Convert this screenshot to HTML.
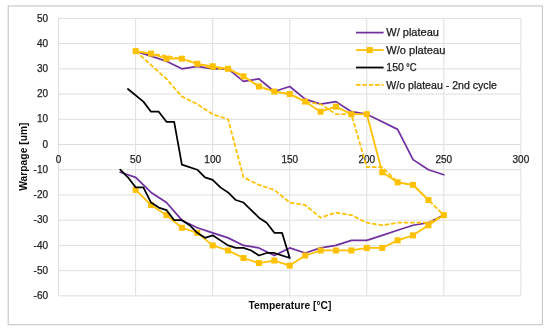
<!DOCTYPE html><html><head><meta charset="utf-8"><style>html,body{margin:0;padding:0;background:#fff;}svg{display:block;will-change:transform;}text{font-family:"Liberation Sans",sans-serif;}</style></head><body>
<svg width="550" height="331" viewBox="0 0 550 331">
<rect x="0" y="0" width="550" height="331" fill="#fff"/>
<rect x="8.2" y="5.95" width="534.2" height="318.7" fill="none" stroke="#C8C8C8" stroke-width="1.15"/>
<g stroke="#DEDEDE" stroke-width="1"><line x1="58.60" y1="18.35" x2="520.90" y2="18.35"/><line x1="58.60" y1="43.58" x2="520.90" y2="43.58"/><line x1="58.60" y1="68.81" x2="520.90" y2="68.81"/><line x1="58.60" y1="94.04" x2="520.90" y2="94.04"/><line x1="58.60" y1="119.27" x2="520.90" y2="119.27"/><line x1="58.60" y1="144.50" x2="520.90" y2="144.50"/><line x1="58.60" y1="169.73" x2="520.90" y2="169.73"/><line x1="58.60" y1="194.96" x2="520.90" y2="194.96"/><line x1="58.60" y1="220.19" x2="520.90" y2="220.19"/><line x1="58.60" y1="245.42" x2="520.90" y2="245.42"/><line x1="58.60" y1="270.65" x2="520.90" y2="270.65"/><line x1="58.60" y1="295.88" x2="520.90" y2="295.88"/><line x1="58.60" y1="18.35" x2="58.60" y2="295.88"/><line x1="135.65" y1="18.35" x2="135.65" y2="295.88"/><line x1="212.70" y1="18.35" x2="212.70" y2="295.88"/><line x1="289.75" y1="18.35" x2="289.75" y2="295.88"/><line x1="366.80" y1="18.35" x2="366.80" y2="295.88"/><line x1="443.85" y1="18.35" x2="443.85" y2="295.88"/><line x1="520.90" y1="18.35" x2="520.90" y2="295.88"/></g>
<g font-size="10" fill="#1f1f1f" stroke="#1f1f1f" stroke-width="0.25"><text x="48" y="21.55" text-anchor="end">50</text><text x="48" y="46.78" text-anchor="end">40</text><text x="48" y="72.01" text-anchor="end">30</text><text x="48" y="97.24" text-anchor="end">20</text><text x="48" y="122.47" text-anchor="end">10</text><text x="48" y="147.70" text-anchor="end">0</text><text x="48" y="172.93" text-anchor="end">-10</text><text x="48" y="198.16" text-anchor="end">-20</text><text x="48" y="223.39" text-anchor="end">-30</text><text x="48" y="248.62" text-anchor="end">-40</text><text x="48" y="273.85" text-anchor="end">-50</text><text x="48" y="299.08" text-anchor="end">-60</text><text x="58.60" y="163" text-anchor="middle">0</text><text x="135.65" y="163" text-anchor="middle">50</text><text x="212.70" y="163" text-anchor="middle">100</text><text x="289.75" y="163" text-anchor="middle">150</text><text x="366.80" y="163" text-anchor="middle">200</text><text x="443.85" y="163" text-anchor="middle">250</text><text x="520.90" y="163" text-anchor="middle">300</text></g>
<text x="290" y="308.6" text-anchor="middle" font-size="10.3" font-weight="bold" fill="#0d0d0d">Temperature [°C]</text>
<text transform="translate(26.7,156.6) rotate(-90)" x="0" y="0" text-anchor="middle" font-size="10.3" font-weight="bold" fill="#0d0d0d">Warpage [um]</text>
<g fill="none" stroke-linejoin="round" stroke-linecap="round" stroke-width="1.75">
<polyline points="135.65,51.15 151.06,56.19 166.47,61.24 181.88,68.81 197.29,66.29 212.70,68.81 228.11,68.81 243.52,81.42 258.93,78.90 274.34,91.52 289.75,86.47 305.16,99.09 320.57,104.13 335.98,101.61 351.39,111.70 366.80,114.22 382.21,121.79 397.62,129.36 413.03,159.64 428.44,169.73 443.85,174.78" stroke="#7030A0"/>
<polyline points="443.85,215.14 428.44,222.71 413.03,225.24 397.62,230.28 382.21,235.33 366.80,240.37 351.39,240.37 335.98,245.42 320.57,247.94 305.16,252.99 289.75,247.94 274.34,255.51 258.93,247.94 243.52,245.42 228.11,237.85 212.70,232.81 197.29,227.76 181.88,220.19 166.47,202.53 151.06,192.44 135.65,177.30 120.24,172.25" stroke="#7030A0"/>
<polyline points="135.65,51.15 151.06,53.67 166.47,58.72 181.88,58.72 197.29,63.76 212.70,66.29 228.11,68.81 243.52,76.38 258.93,86.47 274.34,91.52 289.75,94.04 305.16,101.61 320.57,111.70 335.98,106.66 351.39,114.22 366.80,114.22 382.21,172.25 397.62,182.34 413.03,184.87 428.44,200.01" stroke="#FFC000"/>
<polyline points="443.85,215.14 428.44,225.24 413.03,235.33 397.62,240.37 382.21,247.94 366.80,247.94 351.39,250.47 335.98,250.47 320.57,250.47 305.16,255.51 289.75,265.60 274.34,260.56 258.93,263.08 243.52,258.04 228.11,250.47 212.70,245.42 197.29,232.81 181.88,227.76 166.47,215.14 151.06,205.05 135.65,189.91" stroke="#FFC000"/>
</g>
<g fill="#FFC000"><rect x="132.65" y="48.15" width="6" height="6"/><rect x="148.06" y="50.67" width="6" height="6"/><rect x="163.47" y="55.72" width="6" height="6"/><rect x="178.88" y="55.72" width="6" height="6"/><rect x="194.29" y="60.76" width="6" height="6"/><rect x="209.70" y="63.29" width="6" height="6"/><rect x="225.11" y="65.81" width="6" height="6"/><rect x="240.52" y="73.38" width="6" height="6"/><rect x="255.93" y="83.47" width="6" height="6"/><rect x="271.34" y="88.52" width="6" height="6"/><rect x="286.75" y="91.04" width="6" height="6"/><rect x="302.16" y="98.61" width="6" height="6"/><rect x="317.57" y="108.70" width="6" height="6"/><rect x="332.98" y="103.66" width="6" height="6"/><rect x="348.39" y="111.22" width="6" height="6"/><rect x="363.80" y="111.22" width="6" height="6"/><rect x="379.21" y="169.25" width="6" height="6"/><rect x="394.62" y="179.34" width="6" height="6"/><rect x="410.03" y="181.87" width="6" height="6"/><rect x="425.44" y="197.01" width="6" height="6"/><rect x="440.85" y="212.14" width="6" height="6"/><rect x="425.44" y="222.24" width="6" height="6"/><rect x="410.03" y="232.33" width="6" height="6"/><rect x="394.62" y="237.37" width="6" height="6"/><rect x="379.21" y="244.94" width="6" height="6"/><rect x="363.80" y="244.94" width="6" height="6"/><rect x="348.39" y="247.47" width="6" height="6"/><rect x="332.98" y="247.47" width="6" height="6"/><rect x="317.57" y="247.47" width="6" height="6"/><rect x="302.16" y="252.51" width="6" height="6"/><rect x="286.75" y="262.60" width="6" height="6"/><rect x="271.34" y="257.56" width="6" height="6"/><rect x="255.93" y="260.08" width="6" height="6"/><rect x="240.52" y="255.04" width="6" height="6"/><rect x="225.11" y="247.47" width="6" height="6"/><rect x="209.70" y="242.42" width="6" height="6"/><rect x="194.29" y="229.81" width="6" height="6"/><rect x="178.88" y="224.76" width="6" height="6"/><rect x="163.47" y="212.14" width="6" height="6"/><rect x="148.06" y="202.05" width="6" height="6"/><rect x="132.65" y="186.91" width="6" height="6"/></g>
<g fill="none" stroke-linejoin="round" stroke-linecap="round" stroke-width="1.75">
<polyline points="127.94,88.99 143.35,101.61 151.06,111.70 158.76,111.70 166.47,121.79 174.17,121.79 181.88,164.68 197.29,169.73 204.99,177.30 212.70,179.82 220.40,187.39 228.11,192.44 235.81,200.01 243.52,202.53 251.22,210.10 258.93,217.67 266.63,222.71 274.34,232.81 282.05,232.81 289.75,258.04 274.34,252.99 266.63,252.99 258.93,255.51 251.22,250.47 243.52,247.94 235.81,247.94 228.11,245.42 220.40,240.37 212.70,235.33 204.99,237.85 197.29,232.81 189.58,225.24 181.88,220.19 174.17,220.19 166.47,210.10 158.76,207.57 151.06,202.53 143.35,187.39 135.65,187.39 127.94,177.30 120.24,169.73" stroke="#000"/>
<polyline points="135.65,51.15 151.06,65.03 166.47,78.90 181.88,96.56 197.29,104.13 212.70,114.22 228.11,119.27 243.52,177.30 258.93,184.87 274.34,189.91 289.75,202.53 305.16,205.05 320.57,217.67 335.98,212.62 351.39,215.14 366.80,222.71 382.21,225.24 397.62,222.71 413.03,222.71 428.44,222.71 443.85,215.14 428.44,200.01 413.03,184.87 397.62,182.34 382.21,167.21 366.80,167.21 351.39,114.22 335.98,114.22 320.57,104.13 305.16,101.61 289.75,94.04 274.34,91.52 258.93,86.47 243.52,76.38 228.11,68.81 212.70,68.81 197.29,63.76 181.88,58.72 166.47,56.19 151.06,53.67 135.65,51.15" stroke="#FFC000" stroke-dasharray="4.5 1.9" stroke-linecap="butt"/>
</g>
<line x1="356" y1="32.6" x2="383.6" y2="32.6" stroke="#7030A0" stroke-width="1.75"/><line x1="356" y1="50.05" x2="383.6" y2="50.05" stroke="#FFC000" stroke-width="1.75"/><rect x="366.80" y="47.05" width="6" height="6" fill="#FFC000"/><line x1="356" y1="67.5" x2="383.6" y2="67.5" stroke="#000" stroke-width="1.75"/><line x1="356" y1="84.95" x2="383.6" y2="84.95" stroke="#FFC000" stroke-width="1.75" stroke-dasharray="4.5 1.9"/><text x="386.3" y="36.20" font-size="10.7" fill="#1a1a1a" stroke="#1a1a1a" stroke-width="0.25" textLength="52.6" lengthAdjust="spacingAndGlyphs">W/ plateau</text><text x="386.3" y="53.65" font-size="10.7" fill="#1a1a1a" stroke="#1a1a1a" stroke-width="0.25" textLength="59.0" lengthAdjust="spacingAndGlyphs">W/o plateau</text><text x="386.3" y="71.10" font-size="10.7" fill="#1a1a1a" stroke="#1a1a1a" stroke-width="0.25" textLength="17.6" lengthAdjust="spacingAndGlyphs">150</text><text x="386.3" y="88.55" font-size="10.7" fill="#1a1a1a" stroke="#1a1a1a" stroke-width="0.25" textLength="110.6" lengthAdjust="spacingAndGlyphs">W/o plateau - 2nd cycle</text><text x="406.0" y="71.10" font-size="10.7" fill="#1a1a1a" stroke="#1a1a1a" stroke-width="0.25" textLength="10.6" lengthAdjust="spacingAndGlyphs">°C</text>
</svg></body></html>
